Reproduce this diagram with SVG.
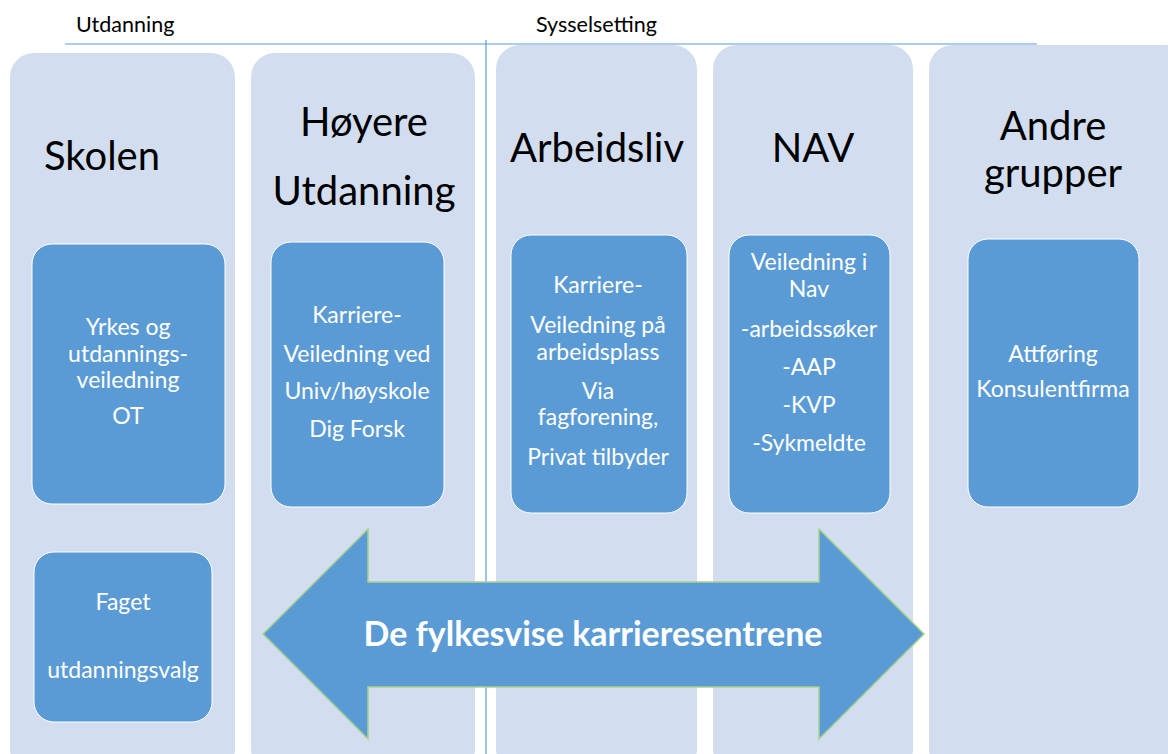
<svg xmlns="http://www.w3.org/2000/svg" width="1168" height="754" viewBox="0 0 1168 754">
<style>
.col{fill:#d2deef;}
.box{fill:#5b9bd5;stroke:#ffffff;stroke-width:1;}
.t{font-family:Lato,"Open Sans",sans-serif;text-anchor:middle;}
.title{font-size:40px;fill:#000;}
.w{font-size:23px;fill:#fff;}
.hdr{font-family:Lato,"Open Sans",sans-serif;font-size:21.5px;fill:#000;}
.ln{stroke:#5b9bd5;stroke-width:1.2;fill:none;}
</style>
<rect width="1168" height="754" fill="#ffffff"/>
<g id="headers">
<text class="hdr" x="76" y="32">Utdanning</text>
<text class="hdr" x="536" y="32">Sysselsetting</text>
</g>
<g id="connectors">
<line class="ln" x1="65" y1="44" x2="1037" y2="44"/>
<line class="ln" x1="486" y1="40" x2="486" y2="754"/>
</g>
<g id="col-skolen">
<rect class="col" x="10" y="53" width="225" height="720" rx="24"/>
<text class="t title" x="102" y="170">Skolen</text>
</g>
<g id="col-hoyere">
<rect class="col" x="251" y="53" width="224" height="720" rx="24"/>
<text class="t title" x="364" y="136">Høyere</text>
<text class="t title" x="364" y="205">Utdanning</text>
</g>
<g id="col-arbeidsliv">
<rect class="col" x="496" y="45" width="201" height="728" rx="24"/>
<text class="t title" x="597" y="162" font-size="39">Arbeidsliv</text>
</g>
<g id="col-nav">
<rect class="col" x="713" y="45" width="200" height="728" rx="24"/>
<text class="t title" x="813" y="162" font-size="37">NAV</text>
</g>
<g id="col-andre">
<rect class="col" x="929" y="45" width="260" height="728" rx="24"/>
<text class="t title" x="1053" y="140" font-size="39">Andre</text>
<text class="t title" x="1053" y="187">grupper</text>
</g>
<g id="box-yrkes">
<rect class="box" x="32" y="244" width="193" height="260" rx="20"/>
<text class="t w" x="128" y="335" font-size="20">Yrkes og</text>
<text class="t w" x="128" y="362" font-size="20">utdannings-</text>
<text class="t w" x="128" y="388" font-size="20">veiledning</text>
<text class="t w" x="128" y="424" font-size="20">OT</text>
</g>
<g id="box-karriere-univ">
<rect class="box" x="271" y="242" width="173" height="265" rx="20"/>
<text class="t w" x="357" y="323">Karriere-</text>
<text class="t w" x="357" y="362">Veiledning ved</text>
<text class="t w" x="357" y="399">Univ/høyskole</text>
<text class="t w" x="357" y="437">Dig Forsk</text>
</g>
<g id="box-arbeidsplass">
<rect class="box" x="511" y="235" width="176" height="278" rx="20"/>
<text class="t w" x="598" y="293">Karriere-</text>
<text class="t w" x="598" y="333">Veiledning på</text>
<text class="t w" x="598" y="360">arbeidsplass</text>
<text class="t w" x="598" y="399">Via</text>
<text class="t w" x="598" y="425">fagforening,</text>
<text class="t w" x="598" y="465">Privat tilbyder</text>
</g>
<g id="box-nav">
<rect class="box" x="729" y="235" width="161" height="278" rx="20"/>
<text class="t w" x="809" y="270" font-size="22">Veiledning i</text>
<text class="t w" x="809" y="297" font-size="22">Nav</text>
<text class="t w" x="809" y="337" font-size="22">-arbeidssøker</text>
<text class="t w" x="809" y="375" font-size="22">-AAP</text>
<text class="t w" x="809" y="413" font-size="22">-KVP</text>
<text class="t w" x="809" y="451" font-size="22">-Sykmeldte</text>
</g>
<g id="box-andre">
<rect class="box" x="968" y="239" width="171" height="268" rx="20"/>
<text class="t w" x="1053" y="362" font-size="22">Attføring</text>
<text class="t w" x="1053" y="397" font-size="22">Konsulentfirma</text>
</g>
<g id="box-faget">
<rect class="box" x="34" y="552" width="178" height="170" rx="20"/>
<text class="t w" x="123" y="610">Faget</text>
<text class="t w" x="123" y="678">utdanningsvalg</text>
</g>
<g id="arrow-karrieresentrene">
<path d="M263,634 L368,529 L368,582 L819,582 L819,529 L924,634 L819,739 L819,687 L368,687 L368,739 Z" fill="#5b9bd5" stroke="#a9d18e" stroke-width="1.5"/>
<text class="t" x="593" y="646" font-size="34" font-weight="bold" fill="#ffffff">De fylkesvise karrieresentrene</text>
</g>
</svg>
